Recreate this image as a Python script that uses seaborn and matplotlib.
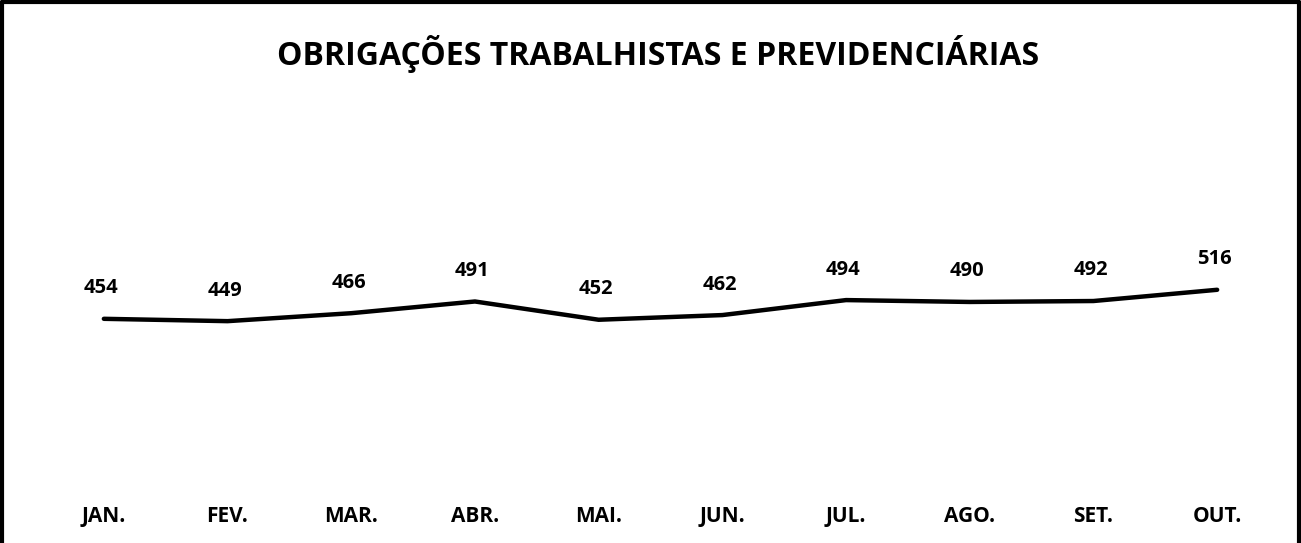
import matplotlib
matplotlib.use("Agg")
import matplotlib.pyplot as plt
import seaborn as sns
import pandas as pd
from matplotlib.lines import Line2D

months = ["JAN.", "FEV.", "MAR.", "ABR.", "MAI.", "JUN.", "JUL.", "AGO.", "SET.", "OUT."]
values = [454, 449, 466, 491, 452, 462, 494, 490, 492, 516]
title = "OBRIGAÇÕES TRABALHISTAS E PREVIDENCIÁRIAS"

sns.set_theme(style="white")
plt.rcParams['font.family'] = ['Open Sans', 'DejaVu Sans']
plt.rcParams['text.color'] = 'black'
plt.rcParams['xtick.color'] = 'black'
plt.rcParams['xtick.labelcolor'] = 'black'

df = pd.DataFrame({"mes": months, "valor": values})
df["pos"] = range(len(months))

fig = plt.figure(figsize=(13.01, 5.43), dpi=100)
ax = fig.add_axes([42 / 1301, (543 - 500) / 543, 1237 / 1301, 390 / 543])

sns.lineplot(data=df, x="pos", y="valor", ax=ax, color="black", linewidth=3.2, sort=False)
ax.set_xlim(-0.5, len(months) - 0.5)
ax.set_ylim(67, 900)
ax.set_xticks(df["pos"])
ax.set_xticklabels(months, fontsize=15, fontweight="bold", color="black")
ax.tick_params(axis="x", length=0, pad=4.5)
ax.set_yticks([])
ax.set_xlabel("")
ax.set_ylabel("")
for s in ax.spines.values():
    s.set_visible(False)

for p, v in zip(df["pos"], df["valor"]):
    ax.annotate(str(v), (p, v), xytext=(-2, 22), textcoords="offset points",
                ha="center", va="center", fontsize=14.5, fontweight="bold", color="black")

fig.text(0.506, (543 - 54) / 543, title, ha="center", va="center",
         fontsize=23, fontweight="bold", color="black")

# outer frame (left, top, right)
lw = 3
for xs, ys in [([0.0015, 0.0015], [0, 0.996]), ([0.0015, 0.9985], [0.996, 0.996]),
               ([0.9985, 0.9985], [0, 0.996])]:
    fig.add_artist(Line2D(xs, ys, transform=fig.transFigure, color="black", linewidth=lw))

fig.savefig("out.png", dpi=100)
